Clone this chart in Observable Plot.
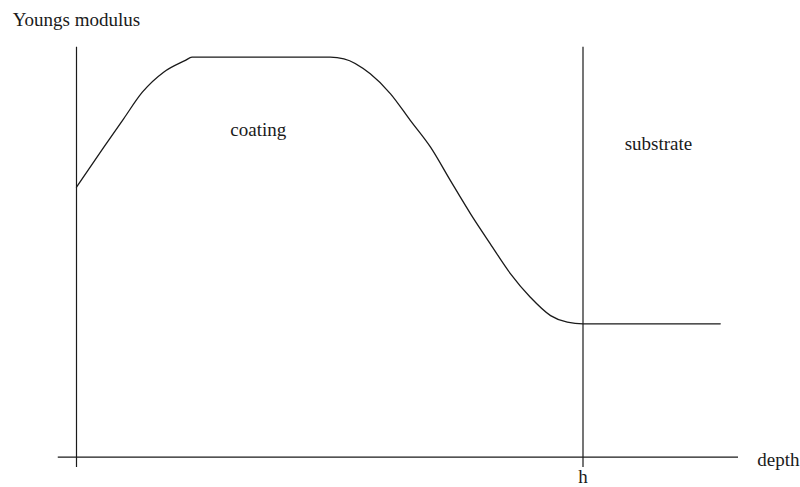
<!DOCTYPE html>
<html>
<head>
<meta charset="utf-8">
<script src="https://cdn.jsdelivr.net/npm/d3@7"></script>
<script src="https://cdn.jsdelivr.net/npm/@observablehq/plot@0.6"></script>
<style>
  html, body { margin: 0; padding: 0; background: #fff; }
  svg { display: block; }
</style>
</head>
<body>
<div id="chart"></div>
<script>
// Schematic: Young's modulus versus depth (coating of thickness h on a substrate)
const depth   = [0, 0.054, 0.093, 0.130, 0.172, 0.215, 0.228, 0.501, 0.528, 0.580, 0.620, 0.659, 0.699, 0.738, 0.778, 0.817, 0.857, 0.896, 0.936, 0.969, 1.0, 1.271];
const modulus = [0.675, 0.775, 0.846, 0.9125, 0.9625, 0.992, 1.0, 1.0, 0.996, 0.9585, 0.9085, 0.842, 0.775, 0.692, 0.6085, 0.5335, 0.4585, 0.400, 0.354, 0.3375, 0.3335, 0.3335];

// vertical guide lines: the modulus axis (depth 0) and the coating/substrate interface (depth h)
const boundaryDepths = [0, 1];
const boundaryExtent = [-0.026, 1.025];
// depth axis line extent
const depthAxisExtent = [-0.036, 1.307];

// text labels
const labelTexts  = ["Youngs modulus", "coating", "substrate", "depth", "h"];
const labelDepths = [-0.126, 0.359, 1.149, 1.344, 1.0];
const labelMods   = [1.077, 0.802, 0.769, -0.021, -0.064];
const labelAnchor = ["start", "middle", "middle", "start", "middle"];

const curve = depth.map((d, i) => ({depth: d, modulus: modulus[i]}));
const labels = labelTexts.map((t, i) => ({text: t, depth: labelDepths[i], modulus: labelMods[i], anchor: labelAnchor[i]}));

const ink = "#1a1a1a";

const chart = Plot.plot({
  width: 800,
  height: 487,
  margin: 0,
  x: {domain: [0, 1], range: [76, 582.5], axis: null},
  y: {domain: [0, 1], range: [456.7, 56.7], axis: null},
  style: {fontFamily: "'Liberation Serif', 'DejaVu Serif', serif", background: "#fff"},
  marks: [
    Plot.ruleX(boundaryDepths, {x: d => d, y1: boundaryExtent[0], y2: boundaryExtent[1], stroke: ink, strokeWidth: 1.2}),
    Plot.ruleY([0], {y: d => d, x1: depthAxisExtent[0], x2: depthAxisExtent[1], stroke: ink, strokeWidth: 1.2}),
    Plot.line(curve, {x: "depth", y: "modulus", curve: "monotone-x", stroke: ink, strokeWidth: 1.3}),
    ...["start", "middle"].map(a => Plot.text(labels.filter(l => l.anchor === a), {
      x: "depth", y: "modulus", text: "text",
      textAnchor: a, lineAnchor: "bottom",
      fontSize: 19, fill: ink
    }))
  ]
});

document.getElementById("chart").appendChild(chart);
</script>
</body>
</html>
